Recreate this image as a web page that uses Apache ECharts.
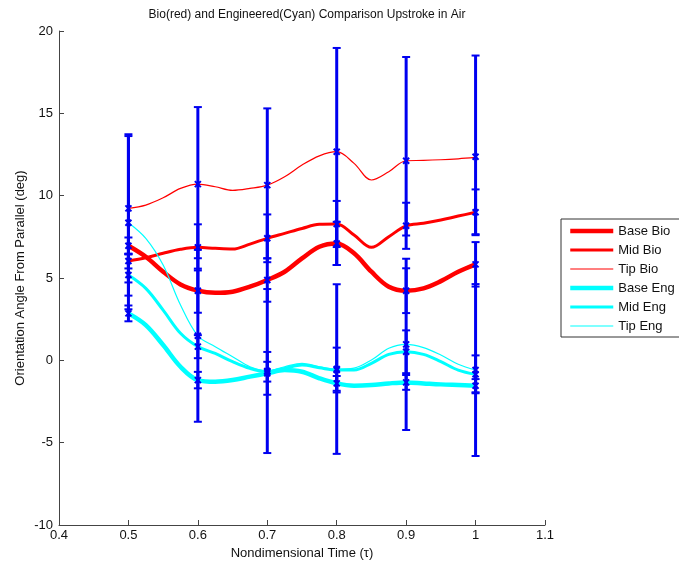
<!DOCTYPE html>
<html>
<head>
<meta charset="utf-8">
<script src="https://cdn.jsdelivr.net/npm/echarts@6/dist/echarts.min.js"></script>
<style>
html,body{margin:0;padding:0;background:#fff;}
#chart{width:679px;height:569px;}
</style>
</head>
<body>
<div id="chart"></div>
<script>
// ---- data ----
const timePoints = [0.5, 0.6, 0.7, 0.8, 0.9, 1.0];
const timeFine = [0.5, 0.525, 0.55, 0.575, 0.6, 0.625, 0.65, 0.675, 0.7, 0.725, 0.75, 0.775, 0.8, 0.825, 0.85, 0.875, 0.9, 0.925, 0.95, 0.975, 1.0];

const seriesNames = ['Base Bio', 'Mid Bio', 'Tip Bio', 'Base Eng', 'Mid Eng', 'Tip Eng'];

const baseBioCurve = [6.96, 6.29, 5.38, 4.61, 4.23, 4.10, 4.17, 4.47, 4.88, 5.38, 6.19, 6.90, 7.10, 6.50, 5.38, 4.47, 4.23, 4.37, 4.81, 5.38, 5.83];
const midBioCurve  = [6.03, 6.23, 6.50, 6.74, 6.86, 6.80, 6.76, 7.06, 7.41, 7.71, 8.01, 8.26, 8.28, 7.61, 6.86, 7.51, 8.17, 8.32, 8.52, 8.76, 8.99];
const tipBioCurve  = [9.23, 9.43, 9.87, 10.44, 10.70, 10.54, 10.32, 10.44, 10.64, 11.15, 11.86, 12.42, 12.67, 11.96, 10.95, 11.45, 12.12, 12.14, 12.18, 12.24, 12.32];
const baseEngCurve = [2.85, 2.14, 0.93, -0.39, -1.20, -1.30, -1.20, -0.99, -0.79, -0.59, -0.69, -1.09, -1.40, -1.54, -1.50, -1.40, -1.34, -1.40, -1.46, -1.50, -1.54];
const midEngCurve  = [5.18, 4.37, 3.05, 1.64, 0.83, 0.42, -0.08, -0.49, -0.69, -0.49, -0.29, -0.45, -0.59, -0.59, -0.18, 0.36, 0.52, 0.36, -0.08, -0.59, -0.85];
const tipEngCurve  = [8.36, 7.41, 5.79, 3.36, 1.49, 0.83, 0.22, -0.39, -0.65, -0.39, -0.18, -0.39, -0.53, -0.47, 0.02, 0.73, 0.97, 0.77, 0.32, -0.24, -0.59];

// values at the error-bar time points
const baseBioMean = [6.96, 4.23, 4.88, 7.10, 4.23, 5.83];
const midBioMean  = [6.03, 6.86, 7.41, 8.28, 8.17, 8.99];
const tipBioMean  = [9.23, 10.70, 10.64, 12.67, 12.12, 12.36];
const baseEngMean = [2.85, -1.20, -0.79, -1.40, -1.34, -1.54];
const midEngMean  = [5.18, 0.83, -0.69, -0.59, 0.52, -0.85];
const tipEngMean  = [8.36, 1.49, -0.65, -0.53, 0.97, -0.59];

// error below / above each point
const baseBioErrLo = [0.50, 1.34, 1.32, 1.31, 1.36, 1.35];
const baseBioErrHi = [0.50, 1.34, 1.32, 1.31, 1.36, 1.35];
const midBioErrLo  = [0.45, 1.40, 1.45, 1.40, 1.40, 1.39];
const midBioErrHi  = [0.45, 1.40, 1.45, 1.40, 1.40, 1.39];
const tipBioErrLo  = [4.50, 4.50, 4.45, 6.88, 4.54, 4.70];
const tipBioErrHi  = [4.50, 4.68, 4.66, 6.30, 6.30, 6.15];
const baseEngErrLo = [0.48, 0.50, 1.30, 0.45, 0.45, 0.40];
const baseEngErrHi = [0.48, 0.50, 1.30, 0.45, 0.45, 0.40];
const midEngErrLo  = [1.25, 0.70, 0.60, 1.36, 1.30, 1.15];
const midEngErrHi  = [1.25, 0.70, 0.60, 1.36, 1.30, 1.15];
const tipEngErrLo  = [5.26, 5.22, 4.98, 5.15, 5.20, 5.22];
const tipEngErrHi  = [5.26, 5.22, 4.98, 5.15, 5.20, 5.22];

const xTicks = [0.4, 0.5, 0.6, 0.7, 0.8, 0.9, 1.0, 1.1];
const yTicks = [-10, -5, 0, 5, 10, 15, 20];

// ---- build ----
const curves = [baseBioCurve, midBioCurve, tipBioCurve, baseEngCurve, midEngCurve, tipEngCurve];
const means = [baseBioMean, midBioMean, tipBioMean, baseEngMean, midEngMean, tipEngMean];
const errLo = [baseBioErrLo, midBioErrLo, tipBioErrLo, baseEngErrLo, midEngErrLo, tipEngErrLo];
const errHi = [baseBioErrHi, midBioErrHi, tipBioErrHi, baseEngErrHi, midEngErrHi, tipEngErrHi];
const colors = ['#ff0000', '#ff0000', '#ff0000', '#00ffff', '#00ffff', '#00ffff'];
const widths = [4.5, 3, 1.2, 4.5, 3, 1.2];
const BLUE = '#0000f0';
const FONT = '"Liberation Sans", Arial, sans-serif';

const lineSeries = curves.map((c, i) => ({
  name: seriesNames[i],
  type: 'line',
  data: timeFine.map((t, j) => [t, c[j]]),
  smooth: 0.35,
  symbol: 'none',
  lineStyle: { color: colors[i], width: widths[i] },
  itemStyle: { color: colors[i] },
  z: 2,
  animation: false
}));

const errData = [];
means.forEach((m, i) => {
  m.forEach((v, j) => errData.push([timePoints[j], v, errLo[i][j], errHi[i][j]]));
});

const errSeries = {
  type: 'custom',
  z: 5,
  silent: true,
  animation: false,
  data: errData,
  encode: { x: 0, y: 1 },
  renderItem: function (params, api) {
    const x = api.value(0), y = api.value(1), lo = api.value(2), hi = api.value(3);
    const p = api.coord([x, y]);
    const pl = api.coord([x, y - lo]);
    const ph = api.coord([x, y + hi]);
    const cw = 4, m = 3;
    const st = { stroke: BLUE, lineWidth: 2 };
    return {
      type: 'group',
      children: [
        { type: 'line', shape: { x1: p[0], y1: ph[1], x2: p[0], y2: pl[1] }, style: { stroke: BLUE, lineWidth: 3 } },
        { type: 'line', shape: { x1: p[0] - cw, y1: ph[1], x2: p[0] + cw, y2: ph[1] }, style: st },
        { type: 'line', shape: { x1: p[0] - cw, y1: pl[1], x2: p[0] + cw, y2: pl[1] }, style: st },
        { type: 'line', shape: { x1: p[0] - m, y1: p[1] - m, x2: p[0] + m, y2: p[1] + m }, style: st },
        { type: 'line', shape: { x1: p[0] - m, y1: p[1] + m, x2: p[0] + m, y2: p[1] - m }, style: st }
      ]
    };
  }
};

const chart = echarts.init(document.getElementById('chart'), null, { renderer: 'canvas' });
chart.setOption({
  backgroundColor: '#ffffff',
  animation: false,
  title: {
    text: 'Bio(red) and Engineered(Cyan) Comparison Upstroke in Air',
    left: 302, top: 4, textAlign: 'center',
    textStyle: { fontFamily: FONT, fontSize: 12, fontWeight: 'normal', color: '#111' }
  },
  legend: {
    orient: 'vertical',
    left: 561, top: 219,
    padding: [5, 40, 4, 7],
    itemGap: 5,
    itemWidth: 43, itemHeight: 14,
    borderColor: '#333', borderWidth: 1,
    backgroundColor: '#fff',
    textStyle: { fontFamily: FONT, fontSize: 13, color: '#111', lineHeight: 14 },
    data: seriesNames.map((n, i) => ({
      name: n,
      lineStyle: { color: colors[i], width: widths[i] },
      itemStyle: { opacity: 0, borderWidth: 0 }
    }))
  },
  grid: { left: 59, right: 134, top: 31, bottom: 44, containLabel: false },
  xAxis: {
    type: 'value', min: 0.4, max: 1.1, interval: 0.1,
    name: 'Nondimensional Time (\u03c4)', nameLocation: 'middle', nameGap: 20,
    nameTextStyle: { fontFamily: FONT, fontSize: 13, color: '#111' },
    axisLine: { onZero: false, lineStyle: { color: '#444', width: 1 } },
    axisTick: { inside: true, length: 5, lineStyle: { color: '#444' } },
    axisLabel: { margin: 4, fontFamily: FONT, fontSize: 13, color: '#111',
      formatter: v => String(+v.toFixed(1)) },
    splitLine: { show: false }
  },
  yAxis: {
    type: 'value', min: -10, max: 20, interval: 5,
    name: 'Orientation Angle From Parallel (deg)', nameLocation: 'middle', nameGap: 32,
    nameMoveOverlap: false,
    nameTextStyle: { fontFamily: FONT, fontSize: 13, color: '#111' },
    axisLine: { show: true, onZero: false, lineStyle: { color: '#444', width: 1 } },
    axisTick: { show: true, inside: true, length: 5, lineStyle: { color: '#444' } },
    axisLabel: { margin: 6, fontFamily: FONT, fontSize: 13, color: '#111' },
    splitLine: { show: false }
  },
  series: lineSeries.concat([errSeries])
});
</script>
</body>
</html>
